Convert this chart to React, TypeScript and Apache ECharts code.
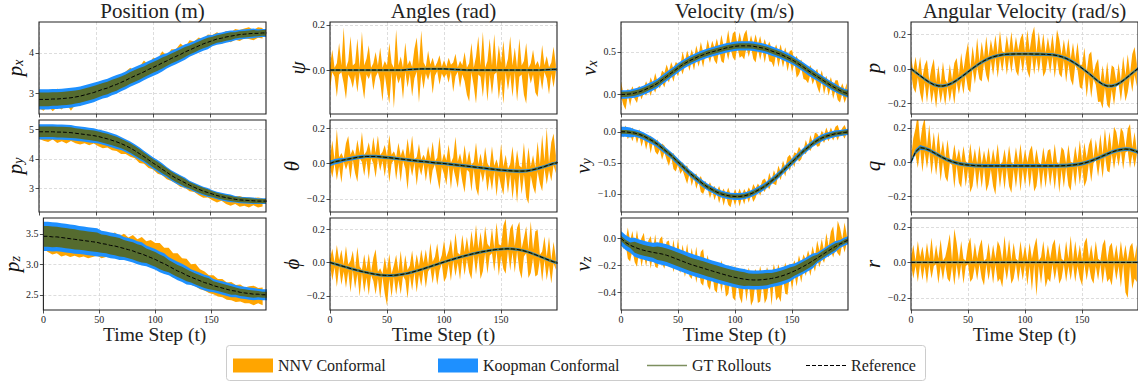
import React, { useEffect, useRef } from 'react';
import * as echarts from 'echarts';

// ---------- data ----------
const X_TICKS = [0, 50, 100, 150];
const REF_STEP = 4; // reference samples every 4 time steps (t = 0..200)
const WIDTH_STEP = 20; // band half-widths every 20 time steps

// Position
const PX_REF = [2.85,2.85,2.85,2.86,2.86,2.87,2.88,2.89,2.91,2.93,2.96,2.99,3.02,3.06,3.10,3.13,3.18,3.22,3.27,3.32,3.38,3.43,3.48,3.53,3.59,3.64,3.69,3.75,3.80,3.86,3.91,3.96,4.02,4.07,4.12,4.17,4.22,4.26,4.30,4.34,4.36,4.39,4.41,4.43,4.45,4.46,4.47,4.48,4.48,4.49,4.49];
const PX_GT_W = [0.17,0.165,0.16,0.155,0.145,0.135,0.125,0.11,0.095,0.08,0.07];
const PX_KOOP_W = [0.25,0.245,0.24,0.23,0.22,0.21,0.19,0.17,0.14,0.12,0.1];
const PX_NNV_HI = [14,18,22,12,26,15,10,17,12,20,11,16,9,19,13,21,10,18,14,22,25,12,17,28,11,24,15,29,13,23,18,27,12,24,16,21,11,19,14,17,10,15,9,16,11,14,16,8,15,12];
const PX_NNV_LO = [22,28,16,30,20,27,14,32,18,25,12,22,15,20,11,19,14,17,12,18,10,16,13,15,9,17,12,14,10,16,11,13,9,15,12,14,10,13,9,12,14,9,15,11,16,10,13,17,11,14];

const PY_REF = [4.92,4.92,4.92,4.92,4.91,4.91,4.90,4.89,4.87,4.85,4.83,4.81,4.79,4.76,4.72,4.68,4.63,4.58,4.52,4.45,4.37,4.28,4.18,4.08,3.97,3.86,3.76,3.65,3.55,3.44,3.35,3.27,3.19,3.11,3.04,2.97,2.91,2.86,2.81,2.76,2.72,2.69,2.66,2.63,2.61,2.60,2.59,2.58,2.57,2.57,2.57];
const PY_GT_W = [0.18,0.18,0.17,0.17,0.16,0.14,0.13,0.11,0.09,0.08,0.07];
const PY_KOOP_W = [0.26,0.26,0.25,0.24,0.22,0.2,0.18,0.15,0.13,0.11,0.1];
const PY_NNV_HI = [14,18,12,20,15,11,17,13,19,12,16,10,18,13,15,11,17,12,14,10,16,12,15,11,14,10,13,9,12,11,10,12,9,11,8,10,12,9,11,8,9,12,7,10,13,8,11,9,12,10];
const PY_NNV_LO = [24,30,35,26,37,31,38,28,34,36,30,35,27,33,36,29,34,31,35,28,30,26,32,24,28,22,26,20,24,19,18,22,17,21,16,20,23,17,21,24,14,22,25,16,23,19,24,15,22,18];

const PZ_REF = [3.46,3.46,3.45,3.45,3.44,3.43,3.42,3.41,3.40,3.39,3.38,3.37,3.36,3.34,3.33,3.31,3.30,3.28,3.26,3.24,3.22,3.19,3.17,3.14,3.11,3.08,3.04,3.01,2.97,2.93,2.89,2.86,2.82,2.79,2.76,2.73,2.70,2.68,2.65,2.63,2.61,2.59,2.57,2.56,2.54,2.53,2.52,2.51,2.51,2.50,2.50];
const PZ_GT_W = [0.17,0.165,0.16,0.15,0.14,0.12,0.1,0.09,0.07,0.06,0.05];
const PZ_KOOP_W = [0.24,0.235,0.23,0.21,0.19,0.17,0.15,0.13,0.11,0.1,0.09];
const PZ_NNV_HI = [16,22,12,20,14,18,11,17,13,15,19,12,16,20,14,19,22,18,24,20,26,22,28,24,29,27,31,26,30,25,29,24,27,21,25,19,18,14,17,13,15,11,14,10,13,9,12,14,10,12];
const PZ_NNV_LO = [20,26,29,27,31,28,30,27,29,26,28,25,22,24,21,20,18,19,17,16,15,17,14,16,15,13,14,12,13,15,12,14,11,13,12,14,13,15,14,16,15,17,16,18,15,17,16,18,15,17];

// Angles
const PSI_REF = [0,0,0,0,0,0,0,0,0,0,0,0,0,0,0,0,0,0.002,0.003,0.004,0.005,0.005,0.005,0.005,0.005,0.005,0.004,0.003,0.002,0.001,0,0,0,0,0,0,0,0,0,0,0,0,0,0,0,0,0,0.001,0.002,0.003,0.003];
const PSI_GT_W = [0.004,0.004,0.004,0.004,0.004,0.004,0.004,0.004,0.004,0.004,0.004];
const PSI_KOOP_W = [0.005,0.005,0.005,0.005,0.005,0.005,0.005,0.005,0.005,0.005,0.005];
const PSI_NNV_HI = [2,9,1,3,12,2,19,1,4,15,2,3,14,1,17,2,5,11,1,3,8,2,10,1,4,2,12,3,1,18,2,6,1,12,2,4,1,9,14,2,17,3,1,8,2,5,1,3,6,1,4,1,5,2,3,7,1,4,2,8,1,3,12,1,6,15,2,17,1,4,14,2,16,1,11,3,13,1,5,15,2,10,1,14,2,4,12,1,3,9,2,4,1,11,2,6,1,3,10,2];
const PSI_NNV_LO = [9,1,3,12,2,1,6,13,2,4,8,2,10,1,6,13,2,4,1,9,3,1,5,14,2,9,15,1,17,2,6,3,13,1,8,2,12,4,1,15,2,9,2,5,1,11,3,1,7,2,4,2,6,1,10,3,1,8,2,5,11,14,1,7,15,2,3,12,1,14,2,11,2,1,13,4,15,1,9,2,12,1,14,3,2,11,15,1,6,2,10,12,2,9,1,4,11,2,8,1];

const THETA_REF = [0,0.01,0.015,0.02,0.025,0.03,0.035,0.038,0.04,0.04,0.04,0.038,0.035,0.033,0.03,0.027,0.024,0.021,0.018,0.015,0.012,0.01,0.007,0.004,0.002,0,-0.003,-0.006,-0.009,-0.012,-0.015,-0.018,-0.021,-0.024,-0.027,-0.03,-0.033,-0.036,-0.038,-0.04,-0.042,-0.043,-0.043,-0.042,-0.038,-0.032,-0.025,-0.017,-0.008,0,0.005];
const THETA_GT_W = [0.007,0.006,0.006,0.006,0.006,0.006,0.006,0.006,0.006,0.006,0.006];
const THETA_KOOP_W = [0.015,0.011,0.009,0.009,0.009,0.009,0.009,0.009,0.009,0.009,0.009];
const THETA_NNV_HI = [3,12,1,18,2,4,1,9,13,2,5,1,10,2,14,1,3,8,1,11,2,12,1,3,7,1,13,2,4,1,9,2,6,1,12,3,14,1,2,10,1,4,1,9,2,12,1,3,15,1,6,2,11,1,4,16,2,7,1,12,2,9,1,3,14,2,8,1,12,3,1,13,2,6,1,15,2,9,1,4,14,1,12,3,2,16,1,13,2,8,1,15,2,18,3,21,1,12,17,4];
const THETA_NNV_LO = [2,9,1,11,3,13,1,6,2,12,1,9,14,1,3,11,2,13,1,4,12,1,8,2,11,1,14,3,1,12,2,13,1,5,17,2,9,1,14,3,8,1,11,2,13,4,1,8,15,2,6,12,1,14,2,7,13,1,9,15,2,3,14,1,12,16,2,8,1,13,4,12,1,15,3,9,14,1,13,2,16,4,18,1,13,2,15,19,3,10,14,2,9,14,1,11,3,10,1,6];

const PHI_REF = [0,-0.008,-0.016,-0.024,-0.032,-0.04,-0.047,-0.054,-0.06,-0.066,-0.071,-0.075,-0.077,-0.078,-0.077,-0.074,-0.07,-0.065,-0.058,-0.05,-0.042,-0.033,-0.024,-0.015,-0.006,0.003,0.012,0.02,0.028,0.036,0.043,0.05,0.056,0.062,0.067,0.072,0.076,0.079,0.081,0.082,0.081,0.078,0.073,0.066,0.057,0.047,0.036,0.025,0.014,0.004,-0.004];
const PHI_GT_W = [0.006,0.006,0.006,0.006,0.006,0.006,0.006,0.006,0.006,0.006,0.006];
const PHI_KOOP_W = [0.008,0.008,0.008,0.008,0.008,0.008,0.008,0.008,0.008,0.008,0.008];
const PHI_NNV_HI = [2,9,1,12,3,10,1,13,2,5,11,1,14,3,1,11,2,12,1,10,15,2,4,1,11,3,13,1,6,12,2,14,1,11,2,4,13,1,10,2,12,3,11,1,14,2,5,12,1,4,13,2,6,12,1,15,3,1,13,2,11,1,14,3,17,2,12,1,15,4,2,13,1,16,3,2,14,18,1,12,15,2,13,17,1,8,15,2,19,3,14,16,1,4,13,2,14,1,12,3];
const PHI_NNV_LO = [1,10,2,13,1,11,3,12,2,14,1,11,2,15,1,12,3,13,1,4,12,2,14,1,11,18,2,13,1,12,3,12,1,4,15,2,11,1,13,3,10,1,12,3,1,11,2,13,4,1,12,10,2,13,1,11,3,14,1,12,2,11,15,1,13,2,16,12,1,14,3,2,13,1,16,4,12,15,1,13,2,14,1,12,17,3,1,15,12,2,13,11,2,14,1,12,3,13,1,4];

// Velocity
const VX_REF = [0,0,0.005,0.015,0.03,0.05,0.075,0.1,0.13,0.17,0.21,0.25,0.29,0.33,0.365,0.395,0.42,0.445,0.465,0.485,0.5,0.515,0.53,0.545,0.555,0.565,0.57,0.57,0.57,0.565,0.555,0.545,0.53,0.51,0.49,0.47,0.445,0.42,0.39,0.355,0.32,0.28,0.245,0.21,0.175,0.14,0.105,0.075,0.045,0.02,0.005];
const VX_GT_W = [0.03,0.03,0.03,0.03,0.03,0.03,0.03,0.03,0.03,0.03,0.03];
const VX_KOOP_W = [0.05,0.055,0.055,0.055,0.055,0.055,0.055,0.055,0.055,0.05,0.045];
const VX_NNV_HI = [15,2,1,6,2,8,1,4,7,2,3,8,1,10,3,12,2,1,11,4,14,2,13,1,9,3,1,14,2,12,3,11,1,13,2,15,3,1,16,2,13,3,14,1,17,2,4,20,1,15,18,2,16,3,14,19,1,13,2,15,3,14,1,12,2,11,3,1,10,2,12,1,11,2,9,13,1,10,2,9,1,6,1,10,2,5,9,1,11,2,8,1,10,2,9,12,1,11,3,13];
const VX_NNV_LO = [2,12,18,1,14,2,7,13,1,11,3,9,1,12,2,11,1,10,3,13,2,11,1,14,2,12,1,13,3,1,12,2,14,1,12,3,15,1,2,13,1,12,16,1,14,18,2,15,1,13,17,1,14,12,16,2,13,1,15,18,2,14,2,16,1,12,13,17,1,15,2,13,1,15,2,14,1,16,12,1,14,11,15,1,13,2,12,16,1,14,2,12,1,13,2,11,14,1,12,3];

const VY_REF = [0,0,-0.01,-0.02,-0.04,-0.07,-0.11,-0.15,-0.2,-0.26,-0.32,-0.38,-0.45,-0.52,-0.59,-0.66,-0.72,-0.78,-0.84,-0.89,-0.93,-0.97,-1,-1.02,-1.035,-1.04,-1.04,-1.03,-1.01,-0.98,-0.94,-0.9,-0.85,-0.79,-0.73,-0.66,-0.59,-0.52,-0.45,-0.38,-0.31,-0.25,-0.19,-0.14,-0.1,-0.07,-0.05,-0.03,-0.02,-0.01,0];
const VY_GT_W = [0.03,0.03,0.03,0.03,0.03,0.03,0.03,0.03,0.03,0.03,0.03];
const VY_KOOP_W = [0.08,0.06,0.055,0.055,0.055,0.055,0.055,0.055,0.055,0.055,0.05];
const VY_NNV_HI = [8,1,10,2,1,9,3,1,8,2,1,7,1,9,2,1,8,1,7,10,2,8,1,11,2,9,1,10,3,12,1,9,2,11,1,13,2,10,1,12,3,10,1,13,2,11,1,14,3,1,12,2,13,1,11,2,12,1,14,3,11,1,12,10,2,13,1,11,2,12,1,13,2,11,15,1,12,3,14,1,2,12,1,14,2,13,11,1,12,2,14,2,12,1,11,13,1,7,12,2];
const VY_NNV_LO = [2,9,1,11,3,13,1,15,2,17,3,18,2,20,1,12,17,3,19,1,13,17,2,15,19,1,16,3,14,18,2,15,1,14,2,13,16,1,3,14,2,13,1,15,2,17,1,14,18,2,15,1,16,2,14,1,13,3,15,12,1,13,2,12,1,14,3,11,13,1,12,2,13,1,11,3,12,1,10,13,2,11,1,12,3,2,10,13,1,11,2,10,1,11,2,12,1,3,10,1];

const VZ_REF = [0,-0.03,-0.05,-0.065,-0.078,-0.088,-0.096,-0.103,-0.109,-0.115,-0.124,-0.136,-0.149,-0.162,-0.175,-0.188,-0.199,-0.209,-0.219,-0.23,-0.24,-0.25,-0.26,-0.27,-0.279,-0.287,-0.294,-0.3,-0.304,-0.306,-0.306,-0.304,-0.3,-0.295,-0.288,-0.279,-0.268,-0.255,-0.24,-0.224,-0.206,-0.187,-0.166,-0.145,-0.123,-0.101,-0.08,-0.06,-0.041,-0.024,-0.01];
const VZ_GT_W = [0.02,0.04,0.05,0.05,0.05,0.05,0.045,0.04,0.035,0.025,0.015];
const VZ_KOOP_W = [0.055,0.07,0.08,0.08,0.078,0.075,0.07,0.065,0.055,0.04,0.03];
const VZ_NNV_HI = [2,6,1,13,3,12,1,14,2,9,13,1,8,12,2,14,1,11,13,2,10,12,1,14,2,16,1,13,3,15,1,13,2,15,1,12,14,2,11,1,7,2,6,1,10,2,7,1,8,2,9,1,7,2,8,1,9,2,5,8,1,10,2,1,9,3,1,10,2,9,1,2,9,1,7,3,8,1,10,2,9,3,10,2,11,1,13,3,12,1,14,2,13,15,1,17,12,2,14,3];
const VZ_NNV_LO = [2,5,1,10,12,2,11,13,1,12,3,11,1,12,2,10,11,1,7,10,2,7,1,10,2,6,9,1,11,2,9,10,1,12,2,11,13,1,12,14,2,13,15,1,14,2,16,13,1,15,17,2,14,18,1,16,2,19,15,1,17,16,2,18,14,1,20,2,17,15,19,2,14,16,1,14,2,13,1,12,2,9,1,11,2,10,1,9,2,8,1,6,1,8,2,7,9,1,8,2];

// Angular velocity
const P_REF = [0,-0.02,-0.04,-0.06,-0.078,-0.092,-0.099,-0.1,-0.094,-0.083,-0.067,-0.048,-0.028,-0.008,0.012,0.03,0.046,0.059,0.069,0.076,0.081,0.084,0.085,0.086,0.086,0.086,0.086,0.085,0.085,0.084,0.083,0.081,0.077,0.07,0.06,0.047,0.031,0.013,-0.007,-0.027,-0.05,-0.072,-0.09,-0.1,-0.1,-0.093,-0.078,-0.058,-0.036,-0.014,0.006];
const P_GT_W = [0.006,0.006,0.006,0.006,0.006,0.006,0.006,0.006,0.006,0.006,0.006];
const P_KOOP_W = [0.009,0.009,0.009,0.009,0.009,0.009,0.009,0.009,0.009,0.009,0.009];
const P_NNV_HI = [7,1,9,2,11,1,8,13,1,10,15,2,12,1,14,3,1,11,2,10,13,1,14,2,11,16,1,12,2,15,1,11,2,13,1,10,3,12,1,14,2,1,11,2,13,1,10,2,9,12,1,14,2,11,16,1,13,2,12,1,10,2,12,1,15,10,1,11,2,13,1,12,2,14,1,3,13,1,11,15,2,10,13,1,11,2,14,1,12,10,2,11,1,13,2,12,1,10,14,2];
const P_NNV_LO = [2,9,12,1,10,14,2,12,1,11,3,13,1,10,2,12,1,11,3,14,1,10,2,12,1,11,13,1,10,2,9,12,1,10,14,2,11,1,13,2,10,1,12,2,11,1,10,13,2,11,1,10,14,1,12,2,11,1,13,10,2,11,1,13,2,10,12,1,14,2,11,13,1,2,12,11,1,14,2,12,1,2,12,10,14,1,11,13,2,12,1,1,11,2,13,10,1,12,2,11];

const Q_REF = [0,0.06,0.085,0.08,0.07,0.055,0.04,0.025,0.012,0.002,-0.006,-0.012,-0.016,-0.019,-0.021,-0.022,-0.023,-0.023,-0.023,-0.023,-0.023,-0.023,-0.023,-0.023,-0.023,-0.023,-0.023,-0.023,-0.023,-0.023,-0.023,-0.023,-0.023,-0.022,-0.021,-0.019,-0.016,-0.012,-0.006,0.002,0.012,0.023,0.035,0.047,0.058,0.067,0.073,0.076,0.074,0.066,0.055];
const Q_GT_W = [0.008,0.007,0.007,0.007,0.007,0.007,0.007,0.007,0.007,0.007,0.007];
const Q_KOOP_W = [0.015,0.011,0.011,0.011,0.011,0.011,0.011,0.011,0.011,0.011,0.011];
const Q_NNV_HI = [2,8,14,20,3,13,18,2,15,1,12,1,14,2,10,1,12,2,1,11,2,9,1,11,2,1,13,2,10,1,12,1,9,2,11,1,10,2,13,1,2,10,1,12,2,1,11,2,13,1,10,2,9,12,1,10,2,1,11,2,9,10,1,13,2,1,11,9,1,12,2,1,11,2,14,1,12,2,10,13,1,11,2,13,1,15,2,12,1,14,11,2,13,10,1,12,15,2,11,1];
const Q_NNV_LO = [1,3,2,12,1,14,2,11,1,13,2,12,1,14,2,10,13,1,2,15,1,11,14,1,13,2,16,12,1,14,2,13,1,15,11,2,12,17,1,13,2,14,1,12,16,2,13,1,15,2,12,1,13,2,15,12,1,14,2,13,1,12,2,14,1,16,2,13,1,12,15,2,13,1,12,2,14,11,1,13,2,1,11,2,13,1,10,12,1,11,2,10,1,12,2,1,11,2,10,1];

const R_REF = [0,0,0,0,0,0,0,0,0,0,0,0,0,0,0,0,0,0,0,0,0,0,0,0,0,0,0,0,0,0,0,0,0,0,0,0,0,0,0,0,0,0,0,0,0,0,0,0,0,0,0];
const R_GT_W = [0.004,0.004,0.004,0.004,0.004,0.004,0.004,0.004,0.004,0.004,0.004];
const R_KOOP_W = [0.005,0.005,0.005,0.005,0.005,0.005,0.005,0.005,0.005,0.005,0.005];
const R_NNV_HI = [2,10,1,12,3,9,1,11,2,14,1,10,2,13,1,3,9,16,1,19,11,1,12,2,1,10,14,1,11,2,9,13,1,2,11,1,10,2,12,9,1,15,2,13,1,11,2,1,12,2,10,1,11,2,9,14,1,3,12,1,10,2,10,13,1,11,2,1,12,2,15,1,12,2,10,1,11,14,2,10,1,12,2,1,10,13,1,9,11,2,10,1,12,2,10,1,9,11,2,10];
const R_NNV_LO = [1,9,2,11,1,10,2,12,1,9,2,1,12,2,10,1,9,11,2,13,1,10,1,12,2,1,11,9,2,10,1,9,13,1,10,2,12,1,11,9,14,2,10,1,12,9,1,11,2,10,1,13,2,16,1,19,2,12,1,14,9,11,1,10,2,12,9,1,11,2,10,1,11,2,9,13,1,10,2,9,12,2,10,1,12,2,11,9,13,1,10,2,14,1,17,20,2,15,9,11];

// tick values
const PX_TICKS = [3, 4];
const PY_TICKS = [3, 4, 5];
const PZ_TICKS = [2.5, 3.0, 3.5];
const SMALL_TICKS = [-0.2, 0, 0.2];
const VX_TICKS = [0, 0.5];
const VY_TICKS = [-1, -0.5, 0];
const VZ_TICKS = [-0.4, -0.2, 0];

const COLUMN_TITLES = ['Position (m)', 'Angles (rad)', 'Velocity (m/s)', 'Angular Velocity (rad/s)'];
const LEGEND_NAMES = ['NNV Conformal', 'Koopman Conformal', 'GT Rollouts', 'Reference'];

// ---------- layout / style ----------
const FONT = "'Liberation Serif', 'DejaVu Serif', serif";
const ORANGE = '#FFA500';
const BLUE = '#1E90FF';
const OLIVE = '#556B2F';
const GRID_LEFTS = [39, 330, 621, 911];
const GRID_TOPS = [22, 120, 218];
const GRID_W = 227;
const GRID_H = 92;

type Panel = {
  row: number; col: number; label: string;
  ref: number[]; gt: number[]; koop: number[]; hi: number[]; lo: number[];
  min: number; max: number; ticks: number[]; dec: number; gap: number;
};

const PANELS: Panel[] = [
  { row: 0, col: 0, label: '{i|p}{s|x}', ref: PX_REF, gt: PX_GT_W, koop: PX_KOOP_W, hi: PX_NNV_HI, lo: PX_NNV_LO, min: 2.49, max: 4.76, ticks: PX_TICKS, dec: 0, gap: 14 },
  { row: 1, col: 0, label: '{i|p}{s|y}', ref: PY_REF, gt: PY_GT_W, koop: PY_KOOP_W, hi: PY_NNV_HI, lo: PY_NNV_LO, min: 2.2, max: 5.32, ticks: PY_TICKS, dec: 0, gap: 14 },
  { row: 2, col: 0, label: '{i|p}{s|z}', ref: PZ_REF, gt: PZ_GT_W, koop: PZ_KOOP_W, hi: PZ_NNV_HI, lo: PZ_NNV_LO, min: 2.25, max: 3.76, ticks: PZ_TICKS, dec: 1, gap: 20 },
  { row: 0, col: 1, label: '{i|ψ}', ref: PSI_REF, gt: PSI_GT_W, koop: PSI_KOOP_W, hi: PSI_NNV_HI, lo: PSI_NNV_LO, min: -0.195, max: 0.213, ticks: SMALL_TICKS, dec: 1, gap: 20 },
  { row: 1, col: 1, label: '{i|θ}', ref: THETA_REF, gt: THETA_GT_W, koop: THETA_KOOP_W, hi: THETA_NNV_HI, lo: THETA_NNV_LO, min: -0.274, max: 0.246, ticks: SMALL_TICKS, dec: 1, gap: 20 },
  { row: 2, col: 1, label: '{i|ϕ}', ref: PHI_REF, gt: PHI_GT_W, koop: PHI_KOOP_W, hi: PHI_NNV_HI, lo: PHI_NNV_LO, min: -0.284, max: 0.266, ticks: SMALL_TICKS, dec: 1, gap: 20 },
  { row: 0, col: 2, label: '{i|v}{s|x}', ref: VX_REF, gt: VX_GT_W, koop: VX_KOOP_W, hi: VX_NNV_HI, lo: VX_NNV_LO, min: -0.23, max: 0.85, ticks: VX_TICKS, dec: 1, gap: 20 },
  { row: 1, col: 2, label: '{i|v}{s|y}', ref: VY_REF, gt: VY_GT_W, koop: VY_KOOP_W, hi: VY_NNV_HI, lo: VY_NNV_LO, min: -1.29, max: 0.19, ticks: VY_TICKS, dec: 1, gap: 20 },
  { row: 2, col: 2, label: '{i|v}{s|z}', ref: VZ_REF, gt: VZ_GT_W, koop: VZ_KOOP_W, hi: VZ_NNV_HI, lo: VZ_NNV_LO, min: -0.527, max: 0.15, ticks: VZ_TICKS, dec: 1, gap: 20 },
  { row: 0, col: 3, label: '{i|p}', ref: P_REF, gt: P_GT_W, koop: P_KOOP_W, hi: P_NNV_HI, lo: P_NNV_LO, min: -0.262, max: 0.271, ticks: SMALL_TICKS, dec: 1, gap: 24 },
  { row: 1, col: 3, label: '{i|q}', ref: Q_REF, gt: Q_GT_W, koop: Q_KOOP_W, hi: Q_NNV_HI, lo: Q_NNV_LO, min: -0.294, max: 0.247, ticks: SMALL_TICKS, dec: 1, gap: 24 },
  { row: 2, col: 3, label: '{i|r}', ref: R_REF, gt: R_GT_W, koop: R_KOOP_W, hi: R_NNV_HI, lo: R_NNV_LO, min: -0.268, max: 0.25, ticks: SMALL_TICKS, dec: 1, gap: 24 },
];

// A filled band [t, low, high] drawn as one polygon through the axis scales.
function bandSeries(i: number, name: string, rows: number[][], color: string) {
  return {
    type: 'custom', name, xAxisIndex: i, yAxisIndex: i, data: rows,
    encode: { x: 0, y: [1, 2] }, clip: true, silent: true,
    itemStyle: { color },
    renderItem: (params: any, api: any) => {
      if (params.dataIndexInside !== 0) return null;
      const n = params.dataInsideLength;
      const up: number[][] = [];
      const dn: number[][] = [];
      for (let j = 0; j < n; j++) {
        const t = api.value(0, j);
        up.push(api.coord([t, api.value(2, j)]));
        dn.push(api.coord([t, api.value(1, j)]));
      }
      return {
        type: 'polygon',
        shape: { points: up.concat(dn.reverse()) },
        style: { fill: color, stroke: null },
      };
    },
  };
}

function buildOption() {
  const grid: any[] = [];
  const xAxis: any[] = [];
  const yAxis: any[] = [];
  const series: any[] = [];
  const tickColor = '#222';
  const splitLine = { show: true, lineStyle: { color: '#d4d4d4', type: [3, 2], width: 0.8 } };

  PANELS.forEach((pl, i) => {
    const left = GRID_LEFTS[pl.col];
    const top = GRID_TOPS[pl.row];
    grid.push({
      left, top, width: pl.col === 3 ? GRID_W + 1 : GRID_W, height: GRID_H,
      show: true, borderColor: '#222', borderWidth: 1.1, backgroundColor: 'transparent', z: 10,
    });
    const bottom = pl.row === 2;
    xAxis.push({
      type: 'value', gridIndex: i, min: 0, max: 199,
      axisLine: { show: false, onZero: false },
      axisTick: { show: true, length: 3.5, customValues: X_TICKS, lineStyle: { color: tickColor, width: 0.8 } },
      axisLabel: { show: bottom, customValues: X_TICKS, fontFamily: FONT, fontSize: 10, color: '#222', margin: 4 },
      splitLine,
      name: bottom ? 'Time Step (t)' : '',
      nameLocation: 'middle', nameGap: 14,
      nameTextStyle: { fontFamily: FONT, fontSize: 19.5, color: '#222' },
    });
    yAxis.push({
      type: 'value', gridIndex: i, min: pl.min, max: pl.max,
      axisLine: { show: false, onZero: false },
      axisTick: { show: true, length: 3.5, customValues: pl.ticks, lineStyle: { color: tickColor, width: 0.8 } },
      axisLabel: {
        customValues: pl.ticks, fontFamily: FONT, fontSize: 10, color: '#222', margin: 5,
        formatter: (v: number) => v.toFixed(pl.dec).replace('-', '\u2212'),
      },
      splitLine,
      name: pl.label, nameLocation: 'middle', nameGap: pl.gap, nameRotate: 90,
      nameTextStyle: {
        fontFamily: FONT, color: '#111',
        rich: {
          i: { fontFamily: FONT, fontSize: 21, fontStyle: 'italic', color: '#111' },
          s: { fontFamily: FONT, fontSize: 14, fontStyle: 'italic', color: '#111', verticalAlign: 'bottom', lineHeight: 18 },
        },
      },
    });

    // NNV conformal band (noisy)
    const nStep = 200 / pl.hi.length;
    const nnvRows = pl.hi.map((h, k) => {
      const t = k * nStep;
      const base = pl.ref[Math.round(t / REF_STEP)];
      return [t, base - pl.lo[k] * 0.01, base + h * 0.01];
    });
    series.push(bandSeries(i, 'NNV Conformal', nnvRows, ORANGE));

    // Koopman band and GT band around the reference
    const widthAt = (w: number[], t: number) => w[Math.round(t / WIDTH_STEP)];
    const kRows = pl.ref.map((r, k) => {
      const w = widthAt(pl.koop, k * REF_STEP);
      return [k * REF_STEP, r - w, r + w];
    });
    series.push(bandSeries(i, 'Koopman Conformal', kRows, BLUE));
    const gRows = pl.ref.map((r, k) => {
      const w = widthAt(pl.gt, k * REF_STEP);
      return [k * REF_STEP, r - w, r + w];
    });
    series.push(bandSeries(i, 'GT Rollouts', gRows, OLIVE));

    series.push({
      type: 'line', name: 'Reference', xAxisIndex: i, yAxisIndex: i,
      data: pl.ref.map((r, k) => [k * REF_STEP, r]),
      symbol: 'none', showSymbol: false, silent: true, smooth: false,
      lineStyle: { color: '#000', width: 1, type: [4, 2] }, itemStyle: { color: '#000' },
      emphasis: { disabled: true },
    });
  });

  const legendBase = {
    orient: 'horizontal', selectedMode: false,
    textStyle: { fontFamily: FONT, fontSize: 16, color: '#222' },
    padding: 0,
  };
  const legend = [
    { ...legendBase, left: 233, top: 357.5, itemWidth: 40, itemHeight: 14, data: [{ name: LEGEND_NAMES[0], icon: 'rect', itemStyle: { color: ORANGE } }] },
    { ...legendBase, left: 438, top: 357.5, itemWidth: 40, itemHeight: 14, data: [{ name: LEGEND_NAMES[1], icon: 'rect', itemStyle: { color: BLUE } }] },
    { ...legendBase, left: 647, top: 357.5, itemWidth: 40, itemHeight: 1.6, data: [{ name: LEGEND_NAMES[2], icon: 'rect', itemStyle: { color: '#7d8f5f' } }] },
    { ...legendBase, left: 806, top: 357.5, itemWidth: 40, itemHeight: 1.2, data: [{ name: LEGEND_NAMES[3], icon: 'path://M0 0h4v1H0zM6 0h4v1H6zM12 0h4v1h-4zM18 0h4v1h-4zM24 0h4v1h-4zM30 0h4v1h-4zM36 0h4v1h-4z', itemStyle: { color: '#000' } }] },
  ];

  const graphic: any[] = [
    { type: 'rect', left: 226, top: 345, shape: { width: 699, height: 35, r: 3 }, style: { fill: '#fff', stroke: '#cccccc', lineWidth: 1 }, z: 0, silent: true },
    ...COLUMN_TITLES.map((t, c) => ({
      type: 'text', x: GRID_LEFTS[c] + GRID_W / 2, y: 11,
      style: { text: t, fontFamily: FONT, fontSize: 21, fill: '#222', align: 'center', verticalAlign: 'middle' },
      silent: true,
    })),
  ];

  return { animation: false, backgroundColor: '#fff', grid, xAxis, yAxis, series, legend, graphic };
}

export default function App() {
  const ref = useRef<HTMLDivElement>(null);
  useEffect(() => {
    if (!ref.current) return;
    const chart = echarts.init(ref.current, null, { renderer: 'svg' });
    chart.setOption(buildOption() as any);
    return () => chart.dispose();
  }, []);
  return <div ref={ref} style={{ position: 'absolute', left: 0, top: 0, width: 1138, height: 381, background: '#fff' }} />;
}
